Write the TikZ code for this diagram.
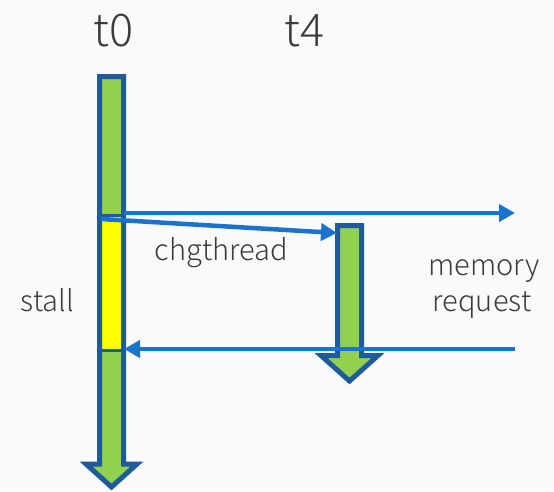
\documentclass[tikz,border=0pt]{standalone}
\usepackage{fontspec}
\setmainfont{Noto Sans CJK JP}[UprightFont={* Light}]
\usetikzlibrary{arrows.meta}
\definecolor{barfill}{HTML}{92D050}
\definecolor{barline}{HTML}{1F5B9A}
\definecolor{stallfill}{HTML}{FFFF00}
\definecolor{msgline}{HTML}{1A73CC}
\definecolor{inkgray}{HTML}{3C3C3C}
\definecolor{paper}{HTML}{FAFAFA}
\tikzset{
  barbody/.style={fill=barfill},
  barrim/.style={draw=barline, line width=5pt, line join=miter},
  msg/.style={draw=msgline, line width=4.5pt, -{Triangle[length=16pt,width=17pt]}},
  txt/.style={text=inkgray, inner sep=0pt, anchor=base, font=\fontsize{29}{34}\selectfont},
  title/.style={txt, font=\fontsize{45}{50}\selectfont},
}
\begin{document}
\begin{tikzpicture}[x=1pt,y=-1pt]
  % page
  \fill[paper] (0,0) rectangle (554,491);
  \useasboundingbox (0,0) rectangle (554,491);

  % thread t0: long block arrow with a stalled section
  \path[barbody] (99.5,76.5) -- (123.5,76.5) -- (123.5,464) -- (137,464)
    -- (111.5,487) -- (86,464) -- (99.5,464) -- cycle;
  \fill[stallfill] (99.5,215) rectangle (123.5,350);
  \draw[barline, line width=3pt] (99.5,215) -- (123.5,215);
  \draw[barline, line width=3pt] (99.5,350) -- (123.5,350);
  \draw[barrim] (99.5,76.5) -- (123.5,76.5) -- (123.5,464) -- (137,464)
    -- (111.5,487) -- (86,464) -- (99.5,464) -- cycle;

  % thread t4: short block arrow
  \draw[barrim, barbody] (337.5,225.5) -- (361.5,225.5) -- (361.5,355.5) -- (378,355.5)
    -- (349.5,381) -- (321,355.5) -- (337.5,355.5) -- cycle;

  % connector ends
  \coordinate (reqstart) at (124,213);
  \coordinate (memout)   at (515,213);
  \coordinate (swstart)  at (101,219);
  \coordinate (t4top)    at (337,233);
  \coordinate (memin)    at (515,349);
  \coordinate (resume)   at (124,349);

  % messages
  \draw[msg] (reqstart) -- (memout);
  \draw[msg] (swstart) -- (t4top);
  \draw[msg] (memin) -- (resume);

  % labels
  \node[title] (lt0) at (113.5,46) {t0};
  \node[title] (lt4) at (304.5,46) {t4};
  \node[txt] (lchg) at (221.5,260) {chgthread};
  \node[txt] (lmem) at (484,275) {memory};
  \node[txt] (lreq) at (482,311) {request};
  \node[txt] (lstall) at (47.5,311) {stall};
\end{tikzpicture}
\end{document}
